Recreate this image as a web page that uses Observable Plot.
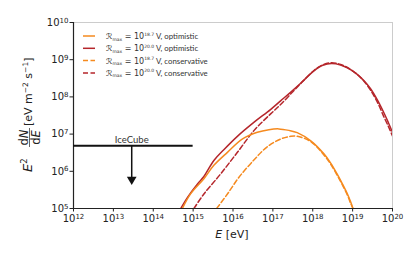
<!DOCTYPE html>
<html><head><meta charset="utf-8">
<script src="https://cdn.jsdelivr.net/npm/d3@7"></script>
<script src="https://cdn.jsdelivr.net/npm/@observablehq/plot@0.6"></script>
<style>body{margin:0;background:#fff} svg{display:block}</style>
</head><body><div id="chart"></div>
<script>
// exponents (log10)
const redOptLogE = [14.69,14.86,15.11,15.27,15.52,15.77,16.11,16.53,16.94,17.2,17.45,17.69,18.03,18.25,18.47,18.7,18.87,19.1,19.28,19.45,19.62,19.79,19.9,20.0];
const redOptLogF = [5.0,5.30,5.66,5.86,6.29,6.58,6.94,7.32,7.66,7.90,8.13,8.36,8.70,8.85,8.90,8.86,8.78,8.62,8.44,8.22,7.92,7.56,7.30,7.05];
const redConLogE = [15.02,15.27,15.69,16.11,16.53,16.95,17.2,17.5,17.69,18.03,18.25,18.47,18.7,18.87,19.1,19.28,19.45,19.62,19.79,19.9,20.0];
const redConLogF = [5.0,5.39,5.93,6.51,7.10,7.55,7.80,8.14,8.35,8.71,8.86,8.92,8.87,8.79,8.62,8.43,8.18,7.86,7.45,7.2,6.95];
const orgOptLogE = [14.73,14.94,15.27,15.52,15.86,16.24,16.61,16.9,17.15,17.4,17.61,17.95,18.28,18.45,18.61,18.75,18.87,18.95,19.0];
const orgOptLogF = [5.0,5.40,5.80,6.16,6.51,6.87,7.05,7.12,7.14,7.10,7.04,6.82,6.47,6.22,5.93,5.65,5.39,5.18,5.03];
const orgConLogE = [15.59,15.86,16.15,16.53,16.86,17.2,17.45,17.61,17.95,18.28,18.45,18.61,18.75,18.87,18.95,19.01];
const orgConLogF = [5.0,5.39,5.84,6.31,6.66,6.87,6.94,6.94,6.80,6.44,6.19,5.90,5.62,5.36,5.14,5.0];

const seriesNames = ["18.7 optimistic","20.0 optimistic","18.7 conservative","20.0 conservative"];
const seriesExp = ["18.7","20.0","18.7","20.0"];
const seriesKind = ["optimistic","optimistic","conservative","conservative"];
const seriesColors = ["#f58a1f","#b5262b","#f58a1f","#b5262b"];
const seriesDash = [null,null,"5,2.5","5,2.5"];

const iceLimitLogF = 6.69;
const iceLogE = [12, 15];
const iceArrowLogE = 13.46;
const iceArrowLogF = [6.69, 5.78];

const xTickExp = [12,13,14,15,16,17,18,19,20];
const yTickExp = [5,6,7,8,9,10];

const sets = [[orgOptLogE,orgOptLogF],[redOptLogE,redOptLogF],[orgConLogE,orgConLogF],[redConLogE,redConLogF]];
const rows = [];
sets.forEach(([es,fs],i)=>es.forEach((e,j)=>rows.push({s:i,E:10**e,F:10**fs[j]})));

const lineMarks = [3,2,1,0].map(i => Plot.line(rows.filter(r=>r.s===i), {
  x:"E", y:"F", stroke: seriesColors[i], strokeWidth:1.5,
  strokeDasharray: seriesDash[i] || undefined, curve:"catmull-rom", clip:true
}));

const plot = Plot.plot({
  width:415, height:257, marginLeft:73, marginRight:23, marginTop:22, marginBottom:49,
  style:{fontFamily:"DejaVu Sans", fontSize:"10px", background:"#fff", color:"#222"},
  x:{type:"log", domain:[1e12,1e20]},
  y:{type:"log", domain:[1e5,1e10]},
  marks:[
    Plot.frame({stroke:"#cccccc"}),
    Plot.axisX(xTickExp.map(e=>10**e), {tickSize:3.5, tickPadding:3, label:null, tickFormat:d=>"10^"+Math.round(Math.log10(d))}),
    Plot.axisY(yTickExp.map(e=>10**e), {tickSize:3.5, tickPadding:1.5, label:null, tickFormat:d=>"10^"+Math.round(Math.log10(d))}),
    Plot.ruleY([1e5], {stroke:"#222", strokeWidth:1.2}),
    Plot.ruleX([1e12], {stroke:"#222", strokeWidth:1.2}),
    ...lineMarks,
    Plot.ruleY([10**iceLimitLogF], {x1:10**iceLogE[0], x2:10**iceLogE[1], stroke:"#111", strokeWidth:2}),
    Plot.ruleX([10**iceArrowLogE], {y1:10**iceArrowLogF[0], y2:10**iceArrowLogF[1], stroke:"#111", strokeWidth:1.5}),
    Plot.dot([{E:10**iceArrowLogE, F:10**iceArrowLogF[1]}], {x:"E", y:"F", symbol:"triangle", rotate:180, r:3.6, fill:"#111", stroke:"none"}),
    Plot.text([{E:10**iceArrowLogE, F:10**iceLimitLogF}], {x:"E", y:"F", text:()=>"IceCube", lineAnchor:"bottom", dy:-2.5, fontFamily:"Lato", fontSize:9.5, fill:"#333"})
  ]
});
document.getElementById("chart").appendChild(plot);

const svg = d3.select(plot);
// superscript tick labels
svg.selectAll('g[aria-label="x-axis tick label"] text, g[aria-label="y-axis tick label"] text').each(function(){
  const t = d3.select(this); const s = t.text(); const [b,p] = s.split("^");
  t.text(null);
  t.append("tspan").text(b);
  t.append("tspan").attr("font-size",7).attr("dy","-0.45em").text(p);
});

// legend
const lg = svg.append("g").attr("transform","translate(83,36)").attr("text-anchor","start");
seriesNames.forEach((n,i)=>{
  const y = i*12.3;
  lg.append("line").attr("x1",0).attr("x2",12).attr("y1",y).attr("y2",y)
    .attr("stroke",seriesColors[i]).attr("stroke-width",1.5).attr("stroke-dasharray",seriesDash[i]);
  const t = lg.append("text").attr("x",23).attr("y",y+3).attr("font-size",7.8).attr("fill","#333").attr("font-family","Lato").attr("text-anchor","start");
  t.append("tspan").attr("font-family","DejaVu Sans").attr("font-size",8).attr("font-style","italic").text("ℛ");
  t.append("tspan").attr("font-family","DejaVu Sans").attr("font-size",4.5).attr("dy",1.5).text("max");
  t.append("tspan").attr("font-family","DejaVu Sans").attr("font-size",8).attr("dy",-1.5).text(" = 10");
  t.append("tspan").attr("font-family","DejaVu Sans").attr("font-size",4.5).attr("dy",-3.5).text(seriesExp[i]);
  t.append("tspan").attr("dy",3.5).text(" V, "+seriesKind[i]);
});

// x label
const xl = svg.append("text").attr("x",232).attr("y",238).attr("text-anchor","middle").attr("font-size",11).attr("fill","#222").attr("font-family","DejaVu Sans");
xl.append("tspan").attr("font-style","italic").text("E");
xl.append("tspan").text(" [eV]");

// y label
const yl = svg.append("g").attr("transform","translate(32,172) rotate(-90)").attr("font-family","DejaVu Sans").attr("fill","#222").attr("text-anchor","start");
const e2 = yl.append("text").attr("x",0).attr("y",0).attr("font-size",13).attr("text-anchor","start");
e2.append("tspan").attr("font-style","italic").text("E");
e2.append("tspan").attr("font-size",8.5).attr("dy",-5.5).text("2");
yl.append("text").attr("x",34.5).attr("y",-4.5).attr("text-anchor","middle").attr("font-size",11.5)
  .html('<tspan>d</tspan><tspan font-style="italic">N</tspan>');
yl.append("line").attr("x1",25).attr("x2",44).attr("y1",-2.5).attr("y2",-2.5).attr("stroke","#222").attr("stroke-width",0.7);
yl.append("text").attr("x",34.5).attr("y",7.5).attr("text-anchor","middle").attr("font-size",11.5)
  .html('<tspan>d</tspan><tspan font-style="italic">E</tspan>');
const br = yl.append("text").attr("x",46).attr("y",0).attr("font-size",11).attr("text-anchor","start");
br.append("tspan").text("[eV m");
br.append("tspan").attr("font-size",7.5).attr("dy",-4.5).text("−2");
br.append("tspan").attr("dy",4.5).text(" s");
br.append("tspan").attr("font-size",7.5).attr("dy",-4.5).text("−1");
br.append("tspan").attr("dy",4.5).text("]");
</script>
</body></html>
